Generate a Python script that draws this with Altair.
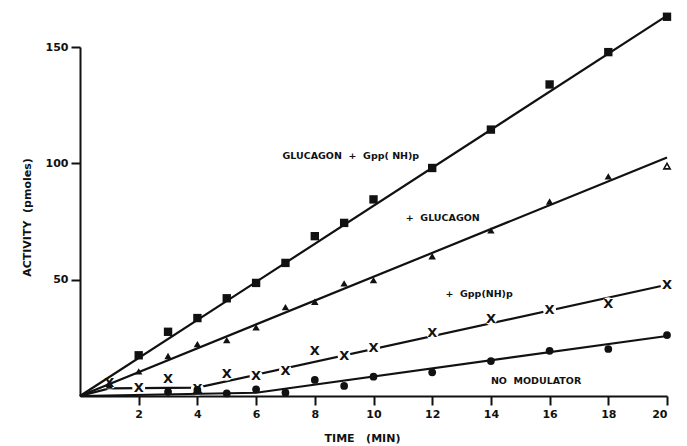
import altair as alt
import pandas as pd

# ---- data ----
time_sq = [2, 3, 4, 5, 6, 7, 8, 9, 10, 12, 14, 16, 18, 20]
act_sq = [17.5, 27.6, 33.5, 42.0, 48.6, 57.2, 68.7, 74.4, 84.5, 98.0, 114.5, 133.9, 147.8, 163.0]

time_tri = [1, 2, 3, 4, 5, 6, 7, 8, 9, 10, 12, 14, 16, 18]
act_tri = [4.5, 10.6, 17.2, 22.3, 24.0, 29.5, 38.2, 40.5, 48.4, 49.8, 60.1, 71.2, 83.6, 94.4]
time_tri_open = [20]
act_tri_open = [98.8]

time_x = [1, 2, 3, 4, 5, 6, 7, 8, 9, 10, 12, 14, 16, 18, 20]
act_x = [5.5, 3.5, 7.2, 3.0, 9.4, 8.6, 10.9, 19.4, 17.2, 20.6, 27.2, 33.3, 36.9, 39.6, 47.8]

time_ci = [3, 4, 5, 6, 7, 8, 9, 10, 12, 14, 16, 18, 20]
act_ci = [1.8, 2.6, 1.1, 2.9, 1.4, 6.9, 4.3, 8.3, 10.2, 15.0, 19.4, 20.2, 26.2]

# fitted lines drawn in the figure
fit_sq_t, fit_sq_v = [0, 20], [0, 163.5]
fit_tri_t, fit_tri_v = [0, 20], [0, 102.5]
fit_x_t, fit_x_v = [0, 1, 4, 20], [0, 3.3, 3.6, 47.8]
fit_ci_t, fit_ci_v = [0, 6, 20], [0, 1.4, 25.8]

NB = "\u00a0"
labels = ["GLUCAGON" + NB * 2 + "+" + NB * 2 + "Gpp(" + NB + "NH)p",
          "+" + NB * 2 + "GLUCAGON",
          "+" + NB * 2 + "Gpp(NH)p",
          "NO" + NB * 2 + "MODULATOR"]
label_t = [6.9, 11.1, 12.45, 14.0]
label_v = [103.2, 76.7, 43.7, 6.6]

x_ticks = [2, 4, 6, 8, 10, 12, 14, 16, 18, 20]
y_ticks = [50, 100, 150]

FONT = "DejaVu Sans"
INK = "#111111"

xs = alt.Scale(domain=[0, 20], nice=False, zero=True)
ys = alt.Scale(domain=[0, 150], nice=False, zero=True)

X = alt.X("t:Q", scale=xs,
          axis=alt.Axis(values=x_ticks, format="d", title="TIME" + NB * 3 + "(MIN)",
                        titleX=282, titleY=42, titleBaseline="middle",
                        grid=False))
Y = alt.Y("v:Q", scale=ys,
          axis=alt.Axis(values=y_ticks, format="d", title="ACTIVITY" + NB * 2 + "(pmoles)",
                        titleX=-53, titleY=170, titleAngle=-90, titleAlign="center",
                        titleBaseline="middle", grid=False))


def df(t, v):
    return pd.DataFrame({"t": t, "v": v})


def line(t, v, width=2.2):
    return alt.Chart(df(t, v)).mark_line(color=INK, strokeWidth=width, clip=False).encode(x=X, y=Y)


x_line = line(fit_x_t, fit_x_v)
x_blank = alt.Chart(df(time_x, act_x)).mark_point(
    shape="circle", filled=True, color="white", opacity=1, size=170, clip=False
).encode(x=X, y=Y)
sq_line = line(fit_sq_t, fit_sq_v)
tri_line = line(fit_tri_t, fit_tri_v)
ci_line = line(fit_ci_t, fit_ci_v)

sq_pts = alt.Chart(df(time_sq, act_sq)).mark_point(
    shape="square", filled=True, color=INK, opacity=1, size=70, clip=False
).encode(x=X, y=Y)
tri_pts = alt.Chart(df(time_tri, act_tri)).mark_point(
    shape="triangle-up", filled=True, color=INK, opacity=1, size=55, clip=False
).encode(x=X, y=Y)
tri_open = alt.Chart(df(time_tri_open, act_tri_open)).mark_point(
    shape="triangle-up", filled=True, fill="white", stroke=INK, strokeWidth=1.6,
    opacity=1, size=40, clip=False
).encode(x=X, y=Y)
ci_pts = alt.Chart(df(time_ci, act_ci)).mark_point(
    shape="circle", filled=True, color=INK, opacity=1, size=60, clip=False
).encode(x=X, y=Y)
x_pts = alt.Chart(df(time_x, act_x)).mark_text(
    text="X", font=FONT, fontWeight="bold", fontSize=13, color=INK,
    baseline="middle", align="center", clip=False
).encode(x=X, y=Y)

ann = alt.Chart(pd.DataFrame({"t": label_t, "v": label_v, "s": labels})).mark_text(
    font=FONT, fontWeight="bold", fontSize=9.5, color=INK, align="left", baseline="middle"
).encode(x=X, y=Y, text="s:N")

chart = alt.layer(
    x_line, x_blank, sq_line, tri_line, ci_line,
    sq_pts, tri_pts, tri_open, ci_pts, x_pts, ann
).properties(
    width=587, height=349,
    padding={"left": 72, "top": 39, "right": 10, "bottom": 50},
    autosize=alt.AutoSizeParams(type="none"),
    background="white",
).configure_view(stroke=None).configure_axis(
    domainColor=INK, domainWidth=2, tickColor=INK, tickWidth=2, tickSize=9,
    labelFont=FONT, labelFontWeight="bold", labelFontSize=11, labelColor=INK,
    titleFont=FONT, titleFontWeight="bold", titleFontSize=11, titleColor=INK,
).configure_axisX(labelPadding=3).configure_axisY(labelPadding=3)

chart.save("out.html", embed_options={"renderer": "svg", "actions": False})
